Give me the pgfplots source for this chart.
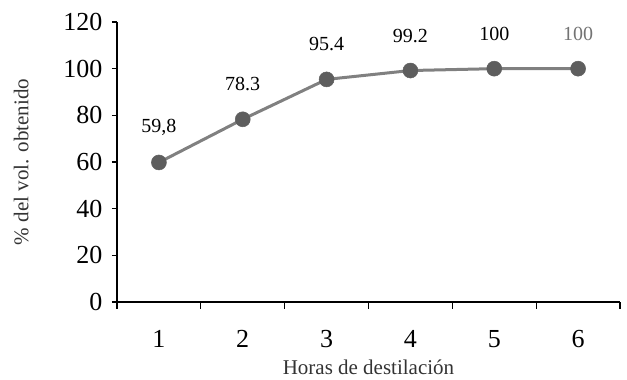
\documentclass[border=0pt]{standalone}
\usepackage{fontspec}
\setmainfont{Liberation Serif}
\usepackage{pgfplots}
\pgfplotsset{compat=1.18}
\definecolor{linegray}{HTML}{808080}
\definecolor{markgray}{HTML}{5E5E5E}
\begin{document}
\begin{tikzpicture}
\begin{axis}[
  name=ax,
  scale only axis,
  width=503pt, height=280pt,
  xmin=0.5, xmax=6.5,
  ymin=0, ymax=120,
  axis lines*=left,
  axis line style={line width=1.2pt, black},
  xtick={1,2,3,4,5,6},
  minor xtick={0.5,1.5,2.5,3.5,4.5,5.5,6.5},
  major x tick style={draw=none},
  minor tick length=7pt,
  ytick={0,20,40,60,80,100,120},
  tick style={line width=1.2pt, black},
  major tick length=5pt,
  tick align=outside,
  /pgf/number format/assume math mode=true,
  ticklabel style={font=\fontsize{26}{30}\selectfont},
  xticklabel style={yshift=-20pt},
  yticklabel style={xshift=-6pt},
  xlabel={Horas de destilación},
  ylabel={\% del vol. obtenido},
  label style={font=\fontsize{21}{25}\selectfont, text=black!80},
  xlabel style={yshift=-5pt},
  ylabel style={yshift=28pt},
  clip=false,
]
\addplot[color=linegray, line width=3pt, mark=*, mark size=7.5pt,
  mark options={fill=markgray, draw=markgray, line width=0.5pt}]
  coordinates {(1,59.8) (2,78.3) (3,95.4) (4,99.2) (5,100) (6,100)};
\addplot[draw=none, mark=none, nodes near coords, point meta=explicit symbolic,
  every node near coord/.append style={anchor=center, yshift=35pt, font=\fontsize{20}{24}\selectfont, text=black}]
  coordinates {(1,59.8)[59,8] (2,78.3)[78.3] (3,95.4)[95.4] (4,99.2)[99.2] (5,100)[100]};
\addplot[draw=none, mark=none, nodes near coords, point meta=explicit symbolic,
  every node near coord/.append style={anchor=center, yshift=35pt, font=\fontsize{20}{24}\selectfont, text=black!55}]
  coordinates {(6,100)[100]};
\end{axis}
\path ([xshift=-117pt,yshift=-78pt]ax.south west) rectangle ([xshift=7pt,yshift=22pt]ax.north east);
\end{tikzpicture}
\end{document}
